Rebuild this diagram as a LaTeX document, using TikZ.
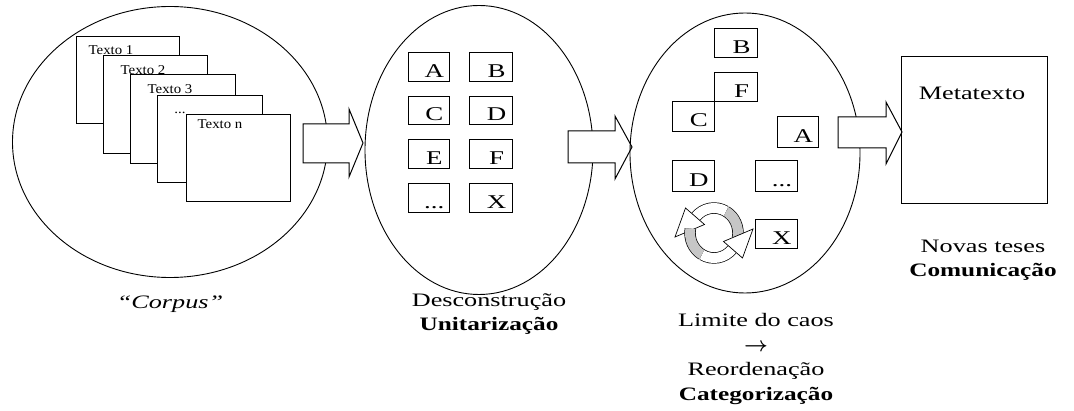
\documentclass[tikz,border=0pt]{standalone}
\usepackage{fontspec}
\setmainfont{Liberation Serif}[FakeStretch=1.38, BoldFont={Liberation Serif Bold}, ItalicFont={Liberation Serif Italic}, BoldFeatures={FakeStretch=1.33}]
\newfontfamily\docfont{Liberation Serif}[FakeStretch=1.1]
\usetikzlibrary{shapes.geometric}

\tikzset{
  phase/.style={draw, ellipse, line width=0.9pt, inner sep=0pt},
  doc/.style={draw, fill=white, line width=1pt},
  doclabel/.style={font=\docfont\fontsize{13.5}{15}\selectfont, inner sep=0pt, text height=8.9pt, text depth=0pt},
  unit/.style={font=\fontsize{19.5}{23}\selectfont, inner sep=0pt, text height=12.9pt, text depth=0pt},
  caption/.style={font=\fontsize{19}{24.5}\selectfont, align=center, inner sep=0pt},
  bigarrow/.style={draw, fill=white, line width=1pt, line join=miter},
  ribbon/.style={draw=black, line width=0.7pt, double distance=10pt},
}

\begin{document}
\begin{tikzpicture}[x=1pt, y=-1pt]
		\useasboundingbox (0,0) rectangle (1074,411);

		% corpus
		\node[phase, minimum width=315pt, minimum height=271pt] (corpus) at (170,142) {};
		\draw[doc] (76,37) rectangle (179,124);
		\node[doclabel] (t1) at (111,50) {Texto 1};
		\draw[doc] (103,56) rectangle (207,154);
		\node[doclabel] (t2) at (143,70) {Texto 2};
		\draw[doc] (130,75) rectangle (235,164);
		\node[doclabel] (t3) at (170,89) {Texto 3};
		\draw[doc] (157,96) rectangle (262,183);
		\node[doclabel] (t4) at (180,109) {...};
		\draw[doc] (186,115) rectangle (290,202);
		\node[doclabel] (tn) at (220,124) {Texto n};
		\node[caption] (corpuscap) at (170,304) {\textit{``Corpus''}};

		\draw[bigarrow] (303,124) -- (349,124) -- (349,109) -- (363,143) -- (349,177) -- (349,163) -- (303,163) -- cycle;

		% unitarizacao
		\node[phase, minimum width=228pt, minimum height=289pt] (desc) at (479,150) {};
		\draw (408,52) rectangle (449,81) node[unit, pos=.64] (uA) {A};
		\draw (469,52) rectangle (512,81) node[unit, pos=.64] (uB) {B};
		\draw (408,96) rectangle (449,124) node[unit, pos=.64] (uC) {C};
		\draw (469,96) rectangle (512,124) node[unit, pos=.64] (uD) {D};
		\draw (408,139) rectangle (449,168) node[unit, pos=.64] (uE) {E};
		\draw (469,139) rectangle (512,168) node[unit, pos=.64] (uF) {F};
		\draw (408,183) rectangle (449,212) node[unit, pos=.64] (uetc) {...};
		\draw (469,183) rectangle (512,212) node[unit, pos=.64] (uX) {X};
		\node[caption] (desccap) at (489,314) {Desconstrução\\\textbf{Unitarização}};

		\draw[bigarrow] (568,131) -- (615,131) -- (615,116) -- (632,147) -- (615,179) -- (615,163) -- (568,163) -- cycle;

		% categorizacao
		\node[phase, minimum width=230pt, minimum height=280pt] (reord) at (745,153) {};
		\draw (714,28) rectangle (757,57) node[unit, pos=.64] (rB) {B};
		\draw (714,72) rectangle (757,101) node[unit, pos=.64] (rF) {F};
		\draw (672,101) rectangle (714,131) node[unit, pos=.64] (rC) {C};
		\draw (777,116) rectangle (818,147) node[unit, pos=.64] (rA) {A};
		\draw (672,160) rectangle (714,191) node[unit, pos=.64] (rD) {D};
		\draw (755,160) rectangle (797,191) node[unit, pos=.64] (retc) {...};
		\draw (755,219) rectangle (797,248) node[unit, pos=.64] (rX) {X};
		\begin{scope}[shift={(714,233)}, yscale=-1]
			\draw[ribbon, double=gray!45] (-10:24 and 25) arc[start angle=-10, end angle=60, x radius=24, y radius=25];
			\draw[ribbon, double=white] (60:24 and 25) arc[start angle=60, end angle=140, x radius=24, y radius=25];
			\draw[line width=0.7pt, fill=white] (-9.5,8.5) -- (-39,-4) -- (-28.5,25) -- cycle;
			\draw[ribbon, double=gray!45] (170:24 and 25) arc[start angle=170, end angle=240, x radius=24, y radius=25];
			\draw[ribbon, double=white] (240:24 and 25) arc[start angle=240, end angle=320, x radius=24, y radius=25];
			\draw[line width=0.7pt, fill=white] (9.5,-8.5) -- (39,4) -- (28.5,-25) -- cycle;
		\end{scope}
		\node[caption] (reordcap) at (756,359) {Limite do caos\\{\fontsize{22}{24.5}\selectfont\boldmath$\rightarrow$}\\Reordenação\\\textbf{Categorização}};

		\draw[bigarrow] (838,117) -- (886,117) -- (886,102) -- (902,132) -- (886,164) -- (886,148) -- (838,148) -- cycle;

		% metatexto
		\draw[line width=1pt] (901,57) rectangle (1047,204);
		\node[caption] (meta) at (972,93) {Metatexto};
		\node[caption] (metacap) at (983,260) {Novas teses\\\textbf{Comunicação}};

		\end{tikzpicture}
\end{document}
